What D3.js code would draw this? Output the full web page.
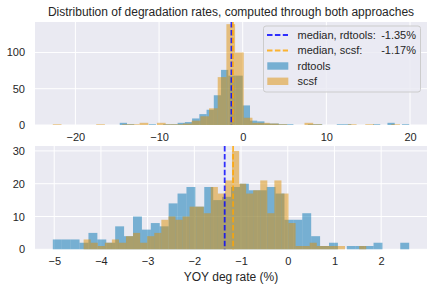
<!DOCTYPE html>
<html>
<head>
<meta charset="utf-8">
<script src="https://cdn.jsdelivr.net/npm/d3@7"></script>
<style>
  body { margin: 0; background: #ffffff; }
  svg text { font-family: "Liberation Sans", Arial, sans-serif; fill: #262626; }
</style>
</head>
<body>
<svg id="chart"></svg>
<script>
// Full range histograms, 40 equal bins between each range's min and max
const fullBlueRange = [-14.7, 19.9];
const fullBlueCounts = [3, 1, 0, 0, 1, 0, 1, 1, 3, 4,
                        9, 15, 21, 41, 76, 68, 68, 27, 6, 5,
                        2, 2, 1, 1, 0, 0, 1, 1, 0, 0,
                        1, 1, 0, 0, 0, 1, 0, 3, 0, 1];
const fullOrangeRange = [-22.7, 18.8];
const fullOrangeCounts = [1, 0, 0, 0, 0, 1, 0, 0, 1, 1,
                          3, 0, 3, 1, 1, 2, 6, 12, 23, 66,
                          139, 100, 10, 3, 3, 2, 1, 0, 0, 3,
                          1, 0, 0, 0, 1, 0, 1, 0, 0, 1];

// Zoomed histograms (values between -5 and 3), 40 bins each
const zoomBlueRange = [-5.03, 2.6];
const zoomBlueCounts = [3, 3, 3, 2, 5, 3, 2, 7, 4, 10,
                        6, 8, 7, 14, 17, 19, 13, 19, 15, 16,
                        19, 20, 18, 18, 19, 17, 9, 9, 11, 4,
                        1, 2, 0, 1, 1, 1, 2, 0, 0, 2];
const zoomOrangeRange = [-4.37, 1.68];
const zoomOrangeCounts = [3, 2, 1, 2, 3, 2, 4, 5, 2, 4,
                          5, 9, 10, 9, 10, 13, 13, 11, 19, 17,
                          21, 30, 20, 17, 18, 21, 11, 21, 17, 8,
                          1, 1, 2, 1, 1, 1, 1, 0, 0, 1];

const medianRdtools = -1.35;
const medianScsf = -1.17;

const fullXTicks = [-20, -10, 0, 10, 20];
const fullYTicks = [0, 50, 100];
const fullYMax = 142;
const zoomXTicks = [-5, -4, -3, -2, -1, 0, 1, 2];
const zoomYTicks = [0, 10, 20, 30];
const zoomYMax = 31.5;

const legendLabels = ["median, rdtools:", "median, scsf:", "rdtools", "scsf"];
const legendValues = ["-1.35%", "-1.17%"];

const W = 438, H = 290;
const left = 35, right = 427;
const bg = "#eaeaf2";
const blueBar = "#0173b2", orangeBar = "#de8f05";
const blueLine = "blue", orangeLine = "orange";

const svg = d3.select("#chart").attr("width", W).attr("height", H);

function toBins(range, counts) {
    const step = (range[1] - range[0]) / counts.length;
    return counts.map((c, i) => ({ x0: range[0] + i * step, x1: range[0] + (i + 1) * step, n: c }));
}

function drawPanel(cfg) {
    const lo = Math.min(cfg.blueRange[0], cfg.orangeRange[0]);
    const hi = Math.max(cfg.blueRange[1], cfg.orangeRange[1]);
    const pad = 0.05 * (hi - lo);

    const x = d3.scaleLinear().domain([lo - pad, hi + pad]).range([left, right]);
    const y = d3.scaleLinear().domain([0, cfg.yMax]).range([cfg.bottom, cfg.top]);

    const g = svg.append("g");

    g.append("rect")
        .attr("x", left).attr("y", cfg.top)
        .attr("width", right - left).attr("height", cfg.bottom - cfg.top)
        .attr("fill", bg);

    // grid
    g.selectAll(".vgrid").data(cfg.xTicks).join("line")
        .attr("x1", d => x(d)).attr("x2", d => x(d))
        .attr("y1", cfg.top).attr("y2", cfg.bottom)
        .attr("stroke", "#fff").attr("stroke-width", 1);
    g.selectAll(".hgrid").data(cfg.yTicks).join("line")
        .attr("x1", left).attr("x2", right)
        .attr("y1", d => y(d)).attr("y2", d => y(d))
        .attr("stroke", "#fff").attr("stroke-width", 1);

    // bars
    [[cfg.blueRange, cfg.blueCounts, blueBar], [cfg.orangeRange, cfg.orangeCounts, orangeBar]].forEach(([r, c, col]) => {
        g.append("g").selectAll("rect")
            .data(toBins(r, c).filter(b => b.n > 0))
            .join("rect")
            .attr("x", d => x(d.x0))
            .attr("width", d => x(d.x1) - x(d.x0))
            .attr("y", d => y(d.n))
            .attr("height", d => y(0) - y(d.n))
            .attr("fill", col)
            .attr("fill-opacity", 0.5);
    });

    // medians
    [[medianRdtools, blueLine], [medianScsf, orangeLine]].forEach(([m, col]) => {
        g.append("line")
            .attr("x1", x(m)).attr("x2", x(m))
            .attr("y1", cfg.top).attr("y2", cfg.bottom)
            .attr("stroke", col).attr("stroke-opacity", 0.8)
            .attr("stroke-width", 1.8)
            .attr("stroke-dasharray", "5.5,2.4");
    });

    // axes
    const xAxisG = g.append("g")
        .attr("transform", `translate(0,${cfg.bottom})`)
        .call(d3.axisBottom(x).tickValues(cfg.xTicks).tickSize(0).tickPadding(8));
    const yAxisG = g.append("g")
        .attr("transform", `translate(${left},0)`)
        .call(d3.axisLeft(y).tickValues(cfg.yTicks).tickSize(0).tickPadding(10));
    [xAxisG, yAxisG].forEach(a => {
        a.select(".domain").remove();
        a.selectAll("text").style("font-size", "11px").attr("fill", "#262626");
    });

    return { x, y, g };
}

const topPanel = drawPanel({
    top: 22, bottom: 125,
    blueRange: fullBlueRange, blueCounts: fullBlueCounts,
    orangeRange: fullOrangeRange, orangeCounts: fullOrangeCounts,
    xTicks: fullXTicks, yTicks: fullYTicks, yMax: fullYMax
});

drawPanel({
    top: 146, bottom: 249.3,
    blueRange: zoomBlueRange, blueCounts: zoomBlueCounts,
    orangeRange: zoomOrangeRange, orangeCounts: zoomOrangeCounts,
    xTicks: zoomXTicks, yTicks: zoomYTicks, yMax: zoomYMax
});

// title and x label
svg.append("text")
    .attr("x", (left + right) / 2).attr("y", 16)
    .attr("text-anchor", "middle")
    .style("font-size", "12px")
    .text("Distribution of degradation rates, computed through both approaches");

svg.append("text")
    .attr("x", (left + right) / 2).attr("y", 281)
    .attr("text-anchor", "middle")
    .style("font-size", "12px")
    .text("YOY deg rate (%)");

// legend
const leg = svg.append("g");
leg.append("rect")
    .attr("x", 263.5).attr("y", 26).attr("width", 157).attr("height", 66)
    .attr("rx", 2.5)
    .attr("fill", bg).attr("fill-opacity", 0.8)
    .attr("stroke", "#cccccc").attr("stroke-width", 1);

const rowY = [35, 50.5, 66, 81.3];
[blueLine, orangeLine].forEach((col, i) => {
    leg.append("line")
        .attr("x1", 267).attr("x2", 288)
        .attr("y1", rowY[i]).attr("y2", rowY[i])
        .attr("stroke", col).attr("stroke-opacity", 0.8)
        .attr("stroke-width", 1.8)
        .attr("stroke-dasharray", "5.5,2.4");
});
[blueBar, orangeBar].forEach((col, i) => {
    leg.append("rect")
        .attr("x", 267.3).attr("y", rowY[i + 2] - 3.7)
        .attr("width", 21).attr("height", 7.4)
        .attr("fill", col).attr("fill-opacity", 0.5);
});
legendLabels.forEach((t, i) => {
    leg.append("text")
        .attr("x", 297.5).attr("y", rowY[i]).attr("dy", "0.35em")
        .style("font-size", "11px")
        .text(t);
});
legendValues.forEach((t, i) => {
    leg.append("text")
        .attr("x", 416).attr("y", rowY[i]).attr("dy", "0.35em")
        .attr("text-anchor", "end")
        .style("font-size", "11px")
        .text(t);
});
</script>
</body>
</html>
